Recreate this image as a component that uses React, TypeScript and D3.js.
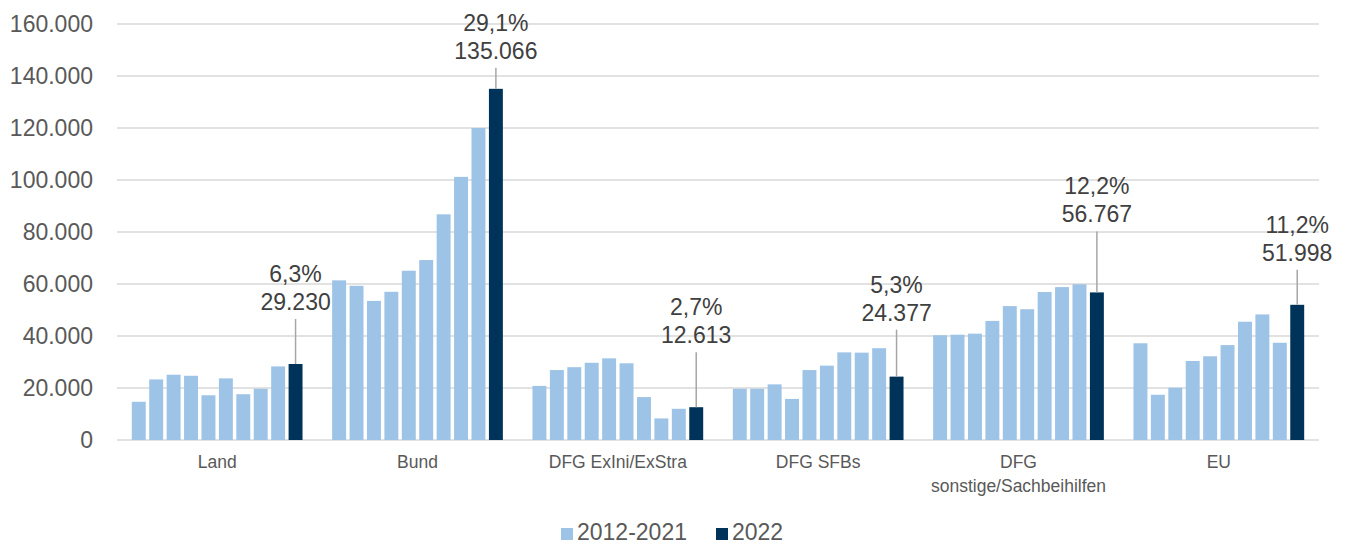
import React from "react";
import * as d3 from "d3";

const categories = ["Land", "Bund", "DFG ExIni/ExStra", "DFG SFBs", "DFG\nsonstige/Sachbeihilfen", "EU"];
const land = [14700, 23300, 25100, 24700, 17200, 23700, 17600, 19700, 28300, 29230];
const bund = [61400, 59300, 53500, 57000, 65100, 69200, 86800, 101200, 120000, 135066];
const exini = [20800, 26900, 28000, 29700, 31400, 29500, 16500, 8300, 12000, 12613];
const sfbs = [19700, 19700, 21400, 15800, 26900, 28600, 33700, 33600, 35300, 24377];
const sonstige = [40300, 40500, 40900, 45800, 51500, 50300, 56900, 58800, 59900, 56767];
const eu = [37200, 17400, 20100, 30400, 32200, 36500, 45500, 48300, 37400, 51998];
const shares = ["6,3%", "29,1%", "2,7%", "5,3%", "12,2%", "11,2%"];
const yTicks = [0, 20000, 40000, 60000, 80000, 100000, 120000, 140000, 160000];
const seriesNames = ["2012-2021", "2022"];

// layout: leader line length (px) above the 2022 bar per category
const leaderLen = [45, 21, 55, 47, 61, 35];

const W = 1349, H = 545;
const LIGHT = "#9DC3E6", DARK = "#003359";
const FONT = "'Liberation Sans', Arial, Helvetica, sans-serif";

const fmt = (v: number) => d3.format(",")(v).replace(/,/g, ".");

export default function App() {
  const data = [land, bund, exini, sfbs, sonstige, eu];
  const x0 = d3.scaleBand<string>().domain(categories).range([117, 1319]).padding(0);
  const x1 = d3.scaleBand<number>().domain(d3.range(10)).range([0, x0.bandwidth()]).paddingInner(0.2).paddingOuter(0.85);
  const y = d3.scaleLinear().domain([0, 160000]).range([440, 24]);

  return (
    <svg width={W} height={H} style={{ position: "absolute", left: 0, top: 0, fontFamily: FONT }}>
      {yTicks.map((t) => (
        <g key={t}>
          <line x1={117} x2={1319} y1={y(t)} y2={y(t)} stroke="#D9D9D9" strokeWidth={t === 0 ? 1.5 : 1.3} />
          <text x={93} y={y(t) + 8} textAnchor="end" fontSize={23} fill="#595959">{fmt(t)}</text>
        </g>
      ))}
      {categories.map((c, ci) => (
        <g key={c} transform={`translate(${x0(c)},0)`}>
          {data[ci].map((v, i) => (
            <rect key={i} x={x1(i)} y={y(v)} width={x1.bandwidth()} height={y(0) - y(v)} fill={i === 9 ? DARK : LIGHT} />
          ))}
          {c.split("\n").map((line, li) => (
            <text key={li} x={x0.bandwidth() / 2} y={468 + li * 24} textAnchor="middle" fontSize={17.5} fill="#595959">{line}</text>
          ))}
          {(() => {
            const v = data[ci][9];
            const cx = (x1(9) as number) + x1.bandwidth() / 2;
            const top = y(v);
            const ls = top - leaderLen[ci];
            return (
              <g>
                <line x1={cx} x2={cx} y1={ls} y2={top} stroke="#A6A6A6" strokeWidth={1.5} />
                <text x={cx} y={ls - 9} textAnchor="middle" fontSize={23} fill="#404040">{fmt(v)}</text>
                <text x={cx} y={ls - 37} textAnchor="middle" fontSize={23} fill="#404040">{shares[ci]}</text>
              </g>
            );
          })()}
        </g>
      ))}
      <g>
        <rect x={561} y={528} width={12} height={12} fill={LIGHT} />
        <text x={577} y={540} fontSize={23} fill="#595959">{seriesNames[0]}</text>
        <rect x={716} y={528} width={12} height={12} fill={DARK} />
        <text x={732} y={540} fontSize={23} fill="#595959">{seriesNames[1]}</text>
      </g>
    </svg>
  );
}
